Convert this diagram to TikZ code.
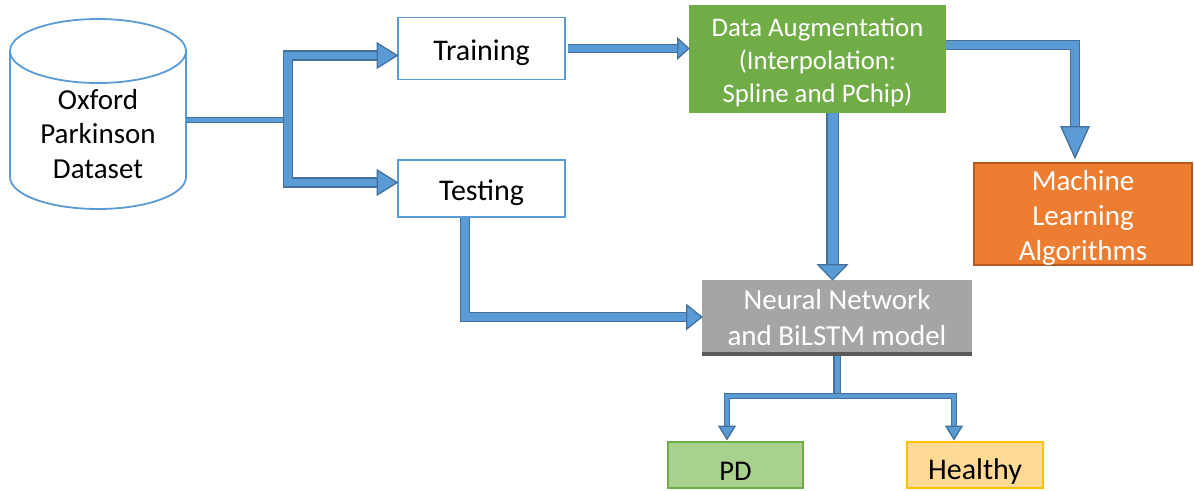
\documentclass[tikz,border=0pt]{standalone}
\usepackage{fontspec}
\setmainfont{Carlito}
\usetikzlibrary{calc}
\definecolor{afill}{HTML}{5B9BD5}
\definecolor{aout}{HTML}{41719C}
\definecolor{boxblue}{HTML}{5B9BD5}
\definecolor{auggreen}{HTML}{70AD47}
\definecolor{mlorange}{HTML}{ED7D31}
\definecolor{mlborder}{HTML}{B85A1E}
\definecolor{nngray}{HTML}{A5A5A5}
\definecolor{nndark}{HTML}{595959}
\definecolor{pdfill}{HTML}{A9D18E}
\definecolor{hfill}{HTML}{FFD996}
\definecolor{hborder}{HTML}{FFC000}
\tikzset{
  wbox/.style={draw=boxblue, line width=1.6pt, fill=white, inner sep=0pt},
  txt/.style={inner sep=0pt, align=center, font=\fontsize{#1}{#1}\selectfont},
  shaftst/.style={draw=aout, double=afill, double distance=#1, line width=1.3pt, line join=miter},
  headst/.style={fill=afill, draw=aout, line width=1.3pt, line join=miter},
  cylst/.style={draw=boxblue, line width=1.8pt},
}
\newcommand\blockhead[4]{\draw[headst, shift={(#1)}, rotate=#2] (0,0) -- (-#3,-#4) -- (-#3,#4) -- cycle;}
\begin{document}
\begin{tikzpicture}[x=1pt, y=-1pt]
\useasboundingbox (0,0) rectangle (1194,490);
% cylinder
\draw[cylst, fill=white] (10,51) -- (10,177) arc[start angle=180, end angle=360, x radius=88pt, y radius=32pt] -- (186,51);
\draw[cylst] (98,51) ellipse [x radius=88pt, y radius=32pt];
\node[align=center, font=\fontsize{29}{34.5}\selectfont] (cyl) at (98,134) {Oxford\\Parkinson\\Dataset};
\coordinate (cylR) at (186,120);
% boxes
\node[wbox, minimum width=167pt, minimum height=62pt] (train) at (481.5,48.5) {};
\node[txt=30] (traintxt) at ($(train)+(0,4)$) {Training};
\node[wbox, minimum width=167pt, minimum height=57pt] (test) at (481.5,188.5) {};
\node[txt=30] (testtxt) at ($(test)+(0,4)$) {Testing};
\node[fill=auggreen, minimum width=257pt, minimum height=108pt, inner sep=0pt] (aug) at (817.5,59) {};
\node[txt=26.8, text=white, font=\fontsize{26.8}{33}\selectfont] (augtxt) at ($(aug)+(0,3)$) {Data Augmentation\\(Interpolation:\\Spline and PChip)};
\node[fill=mlorange, draw=mlborder, line width=2.5pt, minimum width=218pt, minimum height=102pt, inner sep=0pt] (ml) at (1083,214) {};
\node[txt=29, text=white, font=\fontsize{29}{35}\selectfont] (mltxt) at ($(ml)+(0,3.5)$) {Machine\\Learning\\Algorithms};
\fill[nndark] (702,350) rectangle (972,356);
\node[fill=nngray, minimum width=270pt, minimum height=72pt, inner sep=0pt] (nn) at (837,316) {};
\node[txt=29, text=white, font=\fontsize{29}{36}\selectfont] (nntxt) at ($(nn)+(0,2)$) {Neural Network\\and BiLSTM model};
\coordinate (nnS) at (837,356);
\node[fill=pdfill, draw=auggreen, line width=1.5pt, minimum width=135pt, minimum height=46pt, inner sep=0pt] (pd) at (735.5,465) {};
\node[txt=28.5] (pdtxt) at ($(pd)+(0,6)$) {PD};
\node[fill=hfill, draw=hborder, line width=1.5pt, minimum width=136pt, minimum height=46pt, inner sep=0pt] (healthy) at (975,465) {};
\node[txt=30] (healthytxt) at ($(healthy)+(0,6)$) {Healthy};
% connector: dataset -> split -> training / testing
\coordinate (split) at (288,120);
\coordinate (trTip) at ($(train.west)+(0,7)$);
\coordinate (teTip) at ($(test.west)+(0,-6)$);
\draw[shaftst=3.6pt] (cylR) -- (split);
\draw[shaftst=7.6pt] ($(trTip)+(-20,0)$) -- (trTip -| split) -- (teTip -| split) -- ($(teTip)+(-20,0)$);
\blockhead{trTip}{0}{20}{12.5}
\blockhead{teTip}{0}{20}{12.5}
% training -> augmentation
\coordinate (t2a) at ($(train.east)+(2,0)$);
\coordinate (augTip) at (aug.west |- t2a);
\draw[shaftst=6.6pt] (t2a) -- ($(augTip)+(-10,0)$);
\blockhead{augTip}{0}{11}{10}
% augmentation -> ML
\coordinate (a2m) at ($(aug.east)+(0,-14)$);
\coordinate (mlTip) at ($(ml.north)+(-8,-4)$);
\draw[shaftst=8pt] (a2m) -- (a2m -| mlTip) -- ($(mlTip)+(0,-31)$);
\blockhead{mlTip}{-90}{31}{14}
% augmentation -> NN
\coordinate (a2n) at ($(aug.south)+(15,0)$);
\coordinate (nnTip) at (a2n |- nn.north);
\draw[shaftst=10pt] (a2n) -- ($(nnTip)+(0,-15)$);
\blockhead{nnTip}{-90}{15}{14.5}
% testing -> NN
\coordinate (t2n) at ($(test.south)+(-16.5,0)$);
\coordinate (nnW) at ($(nn.west)+(0,1)$);
\draw[shaftst=8pt] (t2n) -- (t2n |- nnW) -- ($(nnW)+(-15,0)$);
\blockhead{nnW}{0}{15}{12}
% NN -> PD / Healthy
\coordinate (fan) at (837,396);
\coordinate (pdTip) at ($(pd.north)+(-8.5,-2)$);
\coordinate (hTip) at ($(healthy.north)+(-21,-2)$);
\draw[shaftst=5pt] (nnS) -- (fan);
\draw[shaftst=3.6pt] ($(pdTip)+(0,-13)$) -- (pdTip |- fan) -- (hTip |- fan) -- ($(hTip)+(0,-13)$);
\blockhead{pdTip}{-90}{13}{8}
\blockhead{hTip}{-90}{13}{8}
\end{tikzpicture}
\end{document}
